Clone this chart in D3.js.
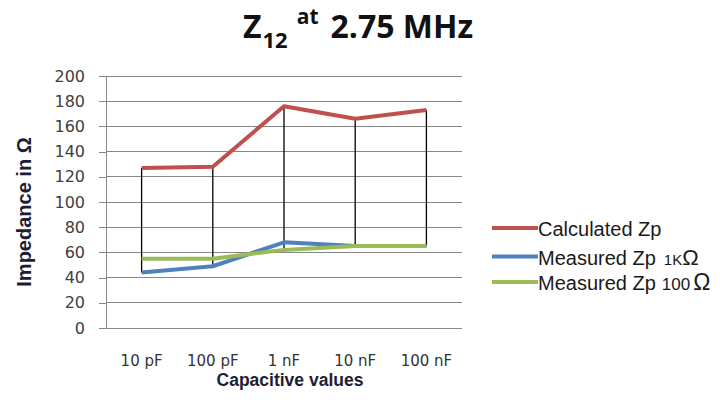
<!DOCTYPE html>
<html><head><meta charset="utf-8">
<script src="https://cdn.jsdelivr.net/npm/d3@7"></script>
<style>body{margin:0;background:#fff}</style>
</head><body><svg id="c" width="720" height="400"></svg>
<script>
const categories = ["10 pF", "100 pF", "1 nF", "10 nF", "100 nF"];
const calculatedZp = [127, 128, 176, 166, 173];
const measuredZp1k = [44, 49, 68, 65, 65];
const measuredZp100 = [55, 55, 62, 65, 65];
const yTicks = [0, 20, 40, 60, 80, 100, 120, 140, 160, 180, 200];
const seriesNames = ["Calculated Zp", "Measured Zp", "Measured Zp"];
const seriesColors = ["#C0504D", "#4F81BD", "#9BBB59"];

const svg = d3.select("#c");
const x = d3.scaleBand().domain(categories).range([106, 462]);
const cx = c => x(c) + x.bandwidth() / 2;
const y = d3.scaleLinear().domain([0, 200]).range([328, 76]);

// gridlines
svg.append("g").selectAll("line").data(yTicks).join("line")
  .attr("x1", 106).attr("x2", 462)
  .attr("y1", d => y(d)).attr("y2", d => y(d))
  .attr("stroke", "#868686").attr("stroke-width", 1).attr("shape-rendering", "crispEdges");

// y axis
const ya = svg.append("g").attr("transform", "translate(106,0)")
  .call(d3.axisLeft(y).tickValues(yTicks).tickSize(7).tickSizeOuter(0).tickPadding(14));
ya.select(".domain").attr("stroke", "#868686").attr("shape-rendering", "crispEdges");
ya.selectAll(".tick line").attr("stroke", "#868686").attr("shape-rendering", "crispEdges");
ya.selectAll(".tick text").attr("font-family", "DejaVu Sans").attr("font-size", 16).attr("fill", "#404040");

// x axis labels
const xa = svg.append("g").attr("transform", "translate(0,328)")
  .call(d3.axisBottom(x).tickSize(0).tickPadding(27));
xa.select(".domain").remove();
xa.selectAll(".tick text").attr("font-family", "DejaVu Sans").attr("font-size", 15).attr("fill", "#333");

const series = [calculatedZp, measuredZp1k, measuredZp100];

// high-low drop lines
svg.append("g").selectAll("line").data(categories).join("line")
  .attr("x1", d => cx(d)).attr("x2", d => cx(d))
  .attr("y1", (d, i) => y(d3.max(series, s => s[i])))
  .attr("y2", (d, i) => y(d3.min(series, s => s[i])))
  .attr("stroke", "#000").attr("stroke-width", 1.3);

const line = d3.line().x((d, i) => cx(categories[i])).y(d => y(d));
svg.append("g").selectAll("path").data(series).join("path")
  .attr("d", d => line(d)).attr("fill", "none")
  .attr("stroke", (d, i) => seriesColors[i]).attr("stroke-width", 4)
  .attr("stroke-linejoin", "round");

// title
const t = svg.append("text").attr("x", 243).attr("y", 38)
  .attr("font-family", "Open Sans").attr("font-weight", "bold").attr("fill", "#111");
t.append("tspan").attr("font-size", 32).text("Z");
t.append("tspan").attr("font-size", 22).attr("dy", 10).attr("dx", 1).text("12");
t.append("tspan").attr("font-size", 21).attr("dy", -24).attr("dx", 9).text("at");
t.append("tspan").attr("font-size", 32).attr("dy", 14).attr("dx", 12).text("2.75 MHz");

// axis titles
svg.append("text").attr("transform", "translate(31,212) rotate(-90)")
  .attr("text-anchor", "middle").attr("font-family", "Liberation Sans").attr("font-weight", "bold")
  .attr("font-size", 20).attr("fill", "#1d1d35").text("Impedance in Ω");
svg.append("text").attr("x", 290).attr("y", 386)
  .attr("text-anchor", "middle").attr("font-family", "Liberation Sans").attr("font-weight", "bold")
  .attr("font-size", 17.5).attr("fill", "#1d1d35").text("Capacitive values");

// legend
const lg = svg.append("g").selectAll("g").data(seriesNames).join("g")
  .attr("transform", (d, i) => `translate(492,${[228, 256.5, 282][i]})`);
lg.append("line").attr("x1", 0).attr("x2", 46).attr("y1", 0).attr("y2", 0)
  .attr("stroke", (d, i) => seriesColors[i]).attr("stroke-width", 4);
const lt = lg.append("text").attr("x", 46).attr("y", 8)
  .attr("font-family", "Liberation Sans").attr("font-size", 20).attr("fill", "#1a1a1a");
lt.append("tspan").text(d => d);
// unit suffixes
lt.filter((d, i) => i === 1).append("tspan").attr("dx", 8).attr("font-size", 15).text("1K");
lt.filter((d, i) => i === 1).append("tspan").attr("font-size", 22).text("Ω");
lt.filter((d, i) => i === 2).append("tspan").attr("dx", 6).attr("font-size", 17).text("100");
lt.filter((d, i) => i === 2).append("tspan").attr("dx", 3).attr("font-size", 23).text("Ω");
</script></body></html>
